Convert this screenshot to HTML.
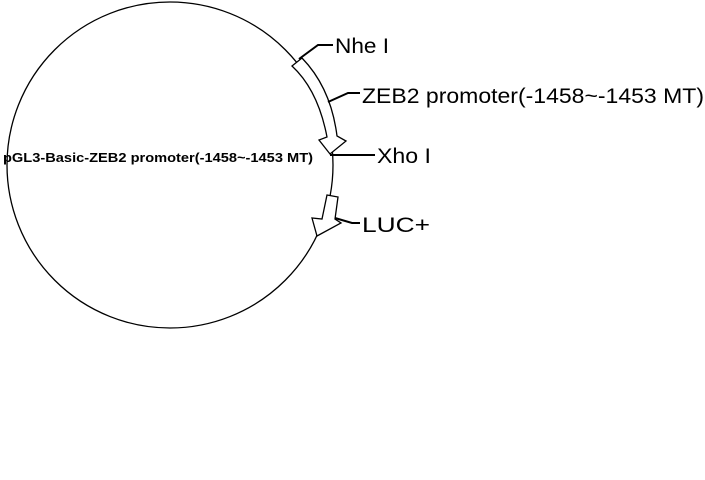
<!DOCTYPE html>
<html><head><meta charset="utf-8"><style>
html,body{margin:0;padding:0;background:#fff;width:705px;height:480px;overflow:hidden}
svg{display:block}
text{font-family:"Liberation Sans",Arial,sans-serif;fill:#000}
</style></head><body>
<svg width="705" height="480" viewBox="0 0 705 480">
<circle cx="170" cy="165" r="163" fill="none" stroke="#000" stroke-width="1.3"/>
<text x="3" y="162" font-size="13" font-weight="bold" textLength="310" lengthAdjust="spacingAndGlyphs">pGL3-Basic-ZEB2 promoter(-1458~-1453 MT)</text>
<path d="M292,66 L302,58 Q331,88 337,136 L346,141 L330,154 L319,140 L327,137 Q318,90 292,66 Z" fill="#fff" stroke="#000" stroke-width="1.3"/>
<path d="M327,195 L338,197 L335,219 L341,223 L317,236 L312,218 L322,219 Z" fill="#fff" stroke="#000" stroke-width="1.3"/>
<polyline points="299,59 318,45 333,45" fill="none" stroke="#000" stroke-width="2"/>
<polyline points="328,102 348,93 360,93" fill="none" stroke="#000" stroke-width="2"/>
<polyline points="330,155 375,155" fill="none" stroke="#000" stroke-width="2"/>
<polyline points="335,218 352,223 360,223" fill="none" stroke="#000" stroke-width="2"/>
<text x="335" y="53" font-size="21" textLength="54" lengthAdjust="spacingAndGlyphs">Nhe I</text>
<text x="362" y="103" font-size="21" textLength="342" lengthAdjust="spacingAndGlyphs">ZEB2 promoter(-1458~-1453 MT)</text>
<text x="377" y="163" font-size="21" textLength="54" lengthAdjust="spacingAndGlyphs">Xho I</text>
<text x="362" y="232" font-size="21" textLength="68" lengthAdjust="spacingAndGlyphs">LUC+</text>
</svg>
</body></html>
